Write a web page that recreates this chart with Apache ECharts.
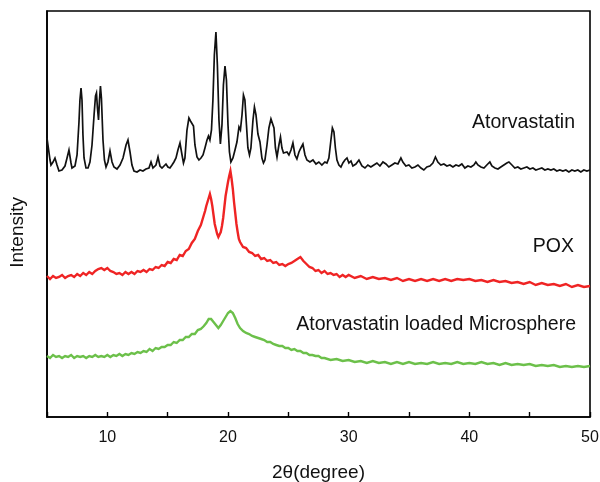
<!DOCTYPE html>
<html>
<head>
<meta charset="utf-8">
<title>XRD patterns</title>
<script src="https://cdn.jsdelivr.net/npm/echarts@6/dist/echarts.min.js"></script>
<style>
  html, body { margin: 0; padding: 0; background: #fff; }
  #chart { width: 600px; height: 482px; }
</style>
</head>
<body>
<div id="chart"></div>
<script>
// Diffraction patterns: [2θ (degree), intensity (a.u., stacked offset included)]
const atorvastatin = [
  [5.00,279],[5.08,277],[5.25,257],[5.33,252],[5.50,255],[5.66,259],[5.83,252],[5.99,246],
  [6.24,247],[6.49,251],[6.66,259],[6.82,267],[6.99,254],[7.07,249],[7.32,251],[7.49,262],
  [7.65,295],[7.73,317],[7.82,329],[7.90,317],[7.98,282],[8.07,259],[8.23,249],[8.40,249],
  [8.56,255],[8.73,272],[8.90,302],[9.02,321],[9.10,324],[9.18,309],[9.27,297],[9.35,317],
  [9.43,331],[9.51,319],[9.64,277],[9.76,257],[9.89,250],[10.05,255],[10.22,266],[10.39,255],
  [10.55,250],[10.80,248],[11.05,252],[11.30,259],[11.55,272],[11.71,277],[11.88,265],[12.04,252],
  [12.21,246],[12.46,245],[12.71,247],[12.95,246],[13.20,248],[13.45,249],[13.62,255],[13.78,249],
  [14.03,252],[14.20,260],[14.36,251],[14.53,249],[14.69,251],[14.86,253],[15.02,250],[15.19,249],
  [15.36,252],[15.52,255],[15.69,259],[15.85,267],[16.02,274],[16.19,262],[16.31,254],[16.43,259],
  [16.60,287],[16.76,299],[16.89,296],[17.01,297],[17.14,291],[17.26,272],[17.43,260],[17.59,257],
  [17.76,259],[17.93,262],[18.09,269],[18.26,277],[18.38,281],[18.50,277],[18.63,287],[18.75,317],
  [18.87,362],[19.00,385],[19.12,352],[19.25,297],[19.37,273],[19.50,292],[19.62,332],[19.75,351],
  [19.87,337],[20.00,292],[20.12,265],[20.24,255],[20.41,259],[20.58,267],[20.74,275],[20.91,290],
  [21.03,287],[21.16,302],[21.28,322],[21.40,317],[21.53,292],[21.65,269],[21.78,262],[21.90,269],
  [22.07,297],[22.19,310],[22.32,302],[22.48,283],[22.65,275],[22.81,259],[22.94,254],[23.06,257],
  [23.23,272],[23.39,289],[23.56,298],[23.68,299],[23.81,289],[23.93,269],[24.06,260],[24.22,272],
  [24.35,280],[24.47,269],[24.60,264],[24.72,262],[24.89,265],[25.05,262],[25.22,267],[25.38,274],
  [25.55,262],[25.71,258],[25.88,265],[26.04,269],[26.21,273],[26.38,262],[26.54,257],[26.79,255],
  [27.04,257],[27.29,253],[27.53,255],[27.78,252],[28.03,255],[28.20,254],[28.36,259],[28.53,277],
  [28.65,289],[28.78,285],[28.90,269],[29.03,257],[29.19,252],[29.36,250],[29.52,254],[29.69,257],
  [29.86,259],[30.02,254],[30.19,256],[30.35,251],[30.60,253],[30.85,257],[31.10,251],[31.35,249],
  [31.59,252],[31.84,250],[32.09,252],[32.34,254],[32.59,251],[32.84,255],[33.09,253],[33.33,250],
  [33.58,252],[33.83,254],[34.08,253],[34.33,259],[34.49,255],[34.74,251],[34.99,252],[35.24,249],
  [35.49,250],[35.74,252],[35.99,249],[36.23,247],[36.48,250],[36.73,251],[36.98,254],[37.19,260],
  [37.39,255],[37.64,252],[37.89,253],[38.14,251],[38.39,252],[38.64,250],[38.89,252],[39.13,251],
  [39.38,253],[39.63,249],[39.88,251],[40.13,250],[40.38,252],[40.54,255],[40.71,252],[40.96,250],
  [41.21,249],[41.45,252],[41.70,255],[41.87,251],[42.12,249],[42.37,248],[42.61,250],[42.86,252],
  [43.11,254],[43.28,255],[43.53,252],[43.77,249],[44.02,250],[44.27,248],[44.52,249],[44.77,250],
  [45.02,248],[45.27,249],[45.51,247],[45.76,248],[46.01,249],[46.26,247],[46.51,248],[46.76,247],
  [47.00,248],[47.25,246],[47.50,247],[47.75,246],[48.00,247],[48.25,245],[48.50,247],[48.74,246],
  [48.99,247],[49.24,245],[49.49,247],[49.74,246],[50.00,247]
];

const pox = [
  [5.00,141],[5.25,138],[5.50,141],[5.75,139],[6.00,140],[6.25,142],[6.50,139],[6.75,141],
  [7.00,142],[7.25,140],[7.50,143],[7.75,141],[8.00,144],[8.25,142],[8.50,145],[8.75,143],
  [9.00,146],[9.25,148],[9.50,149],[9.75,147],[10.00,149],[10.25,146],[10.50,145],[10.75,143],
  [11.00,144],[11.25,142],[11.50,145],[11.75,143],[12.00,145],[12.25,143],[12.50,146],[12.75,145],
  [13.00,147],[13.25,145],[13.50,148],[13.75,147],[14.00,150],[14.25,149],[14.50,152],[14.75,151],
  [15.00,155],[15.25,154],[15.50,158],[15.75,157],[16.00,162],[16.25,161],[16.50,166],[16.75,168],
  [17.00,174],[17.25,178],[17.50,186],[17.75,192],[18.00,202],[18.10,206],[18.20,211],[18.30,215],
  [18.40,219],[18.50,223],[18.60,218],[18.70,211],[18.80,202],[18.90,193],[19.00,188],[19.10,183],
  [19.20,180],[19.30,182],[19.40,185],[19.50,191],[19.60,199],[19.70,210],[19.80,221],[19.90,228],
  [20.00,235],[20.10,241],[20.20,246],[20.30,238],[20.40,228],[20.50,215],[20.60,204],[20.70,193],
  [20.80,185],[20.90,178],[21.00,175],[21.25,170],[21.50,169],[21.75,165],[22.00,164],[22.25,161],
  [22.50,162],[22.75,158],[23.00,159],[23.25,156],[23.50,157],[23.75,154],[24.00,155],[24.25,152],
  [24.50,153],[24.75,151],[25.00,153],[25.25,154],[25.50,156],[25.75,158],[26.00,160],[26.25,156],
  [26.50,153],[26.75,150],[27.00,149],[27.25,146],[27.50,147],[27.75,144],[28.00,146],[28.25,143],
  [28.50,144],[28.75,142],[29.00,143],[29.25,140],[29.50,142],[29.75,140],[30.00,142],[30.50,139],
  [31.00,141],[31.50,138],[32.00,140],[32.50,138],[33.00,139],[33.50,137],[34.00,139],[34.50,136],
  [35.00,138],[35.50,136],[36.00,138],[36.50,136],[37.00,138],[37.50,136],[38.00,138],[38.50,136],
  [39.00,138],[39.50,137],[40.00,138],[40.50,136],[41.00,137],[41.50,135],[42.00,137],[42.50,135],
  [43.00,136],[43.50,134],[44.00,135],[44.50,133],[45.00,135],[45.50,132],[46.00,134],[46.50,132],
  [47.00,133],[47.50,131],[48.00,133],[48.50,130],[49.00,132],[49.50,130],[50.00,131]
];

const microsphere = [
  [5.00,61],[5.25,59],[5.50,62],[5.75,60],[6.00,61],[6.25,59],[6.50,61],[6.75,60],
  [7.00,62],[7.25,59],[7.50,61],[7.75,60],[8.00,61],[8.25,59],[8.50,61],[8.75,60],
  [9.00,62],[9.25,60],[9.50,61],[9.75,60],[10.00,62],[10.25,60],[10.50,62],[10.75,61],
  [11.00,63],[11.25,61],[11.50,63],[11.75,62],[12.00,64],[12.25,63],[12.50,65],[12.75,64],
  [13.00,66],[13.25,65],[13.50,68],[13.75,66],[14.00,69],[14.25,68],[14.50,70],[14.75,70],
  [15.00,72],[15.25,72],[15.50,75],[15.75,74],[16.00,77],[16.25,77],[16.50,80],[16.75,80],
  [17.00,83],[17.25,83],[17.50,87],[17.75,88],[18.00,91],[18.20,94],[18.40,98],[18.50,100],
  [18.60,98],[18.80,95],[19.00,92],[19.20,89],[19.40,92],[19.60,96],[19.80,100],[20.00,104],
  [20.20,106],[20.40,104],[20.60,99],[20.80,93],[21.00,89],[21.25,86],[21.50,84],[21.75,83],
  [22.00,81],[22.25,80],[22.50,79],[22.75,78],[23.00,77],[23.25,75],[23.50,75],[23.75,73],
  [24.00,72],[24.25,71],[24.50,71],[24.75,69],[25.00,69],[25.25,67],[25.50,68],[25.75,66],
  [26.00,66],[26.25,64],[26.50,64],[26.75,62],[27.00,62],[27.25,61],[27.50,61],[27.75,59],
  [28.00,59],[28.50,57],[29.00,58],[29.50,56],[30.00,57],[30.50,55],[31.00,56],[31.50,54],
  [32.00,56],[32.50,54],[33.00,55],[33.50,53],[34.00,55],[34.50,53],[35.00,55],[35.50,53],
  [36.00,54],[36.50,53],[37.00,55],[37.50,53],[38.00,54],[38.50,53],[39.00,55],[39.50,53],
  [40.00,54],[40.50,53],[41.00,55],[41.50,53],[42.00,54],[42.50,52],[43.00,54],[43.50,52],
  [44.00,53],[44.50,52],[45.00,53],[45.50,51],[46.00,52],[46.50,51],[47.00,52],[47.50,50],
  [48.00,51],[48.50,50],[49.00,51],[49.50,50],[50.00,51]
];

const seriesNames = ['Atorvastatin', 'POX', 'Atorvastatin loaded Microsphere'];
const xTickLabels = [10, 20, 30, 40, 50];

const FONT = 'Liberation Sans, Arial, sans-serif';
const chart = echarts.init(document.getElementById('chart'), null, { renderer: 'canvas' });

function lineSeries(name, data, color, width) {
  return {
    name, type: 'line', data,
    showSymbol: false, symbol: 'none', smooth: false,
    lineStyle: { color, width, join: 'miter' },
    emphasis: { disabled: true },
    silent: true
  };
}

chart.setOption({
  animation: false,
  backgroundColor: '#fff',
  grid: {
    left: 47, right: 10, top: 11, bottom: 65,
    outerBoundsMode: 'none', containLabel: false,
    show: true, borderColor: '#000', borderWidth: 1.6, backgroundColor: 'transparent'
  },
  xAxis: {
    type: 'value', min: 5, max: 50, interval: 5,
    name: '2θ(degree)', nameLocation: 'middle', nameGap: 46,
    nameTextStyle: { fontFamily: FONT, fontSize: 19, color: '#111' },
    axisLine: { show: true, lineStyle: { color: '#000', width: 1.6 } },
    axisTick: { show: true, inside: true, length: 5, lineStyle: { color: '#000', width: 1.4 } },
    axisLabel: {
      fontFamily: FONT, fontSize: 16, color: '#111', margin: 13,
      formatter: v => (xTickLabels.indexOf(v) >= 0 ? String(v) : '')
    },
    splitLine: { show: false }
  },
  yAxis: {
    type: 'value', min: 0, max: 406,
    axisLine: { show: true, lineStyle: { color: '#000', width: 1.6 } },
    axisTick: { show: false },
    axisLabel: { show: false },
    splitLine: { show: false }
  },
  series: [
    lineSeries(seriesNames[0], atorvastatin, '#111111', 1.7),
    lineSeries(seriesNames[1], pox, '#ef2424', 2.4),
    lineSeries(seriesNames[2], microsphere, '#6cc04a', 2.4)
  ],
  graphic: [
    { type: 'text', left: 8, top: 197, rotation: Math.PI / 2,
      style: { text: 'Intensity', font: '19px ' + FONT, fill: '#111' } },
    { type: 'text', right: 25, top: 113,
      style: { text: seriesNames[0], font: '19.5px ' + FONT, fill: '#111' } },
    { type: 'text', right: 26, top: 237,
      style: { text: seriesNames[1], font: '19.5px ' + FONT, fill: '#111' } },
    { type: 'text', right: 24, top: 315,
      style: { text: seriesNames[2], font: '19.5px ' + FONT, fill: '#111' } }
  ]
});
</script>
</body>
</html>
